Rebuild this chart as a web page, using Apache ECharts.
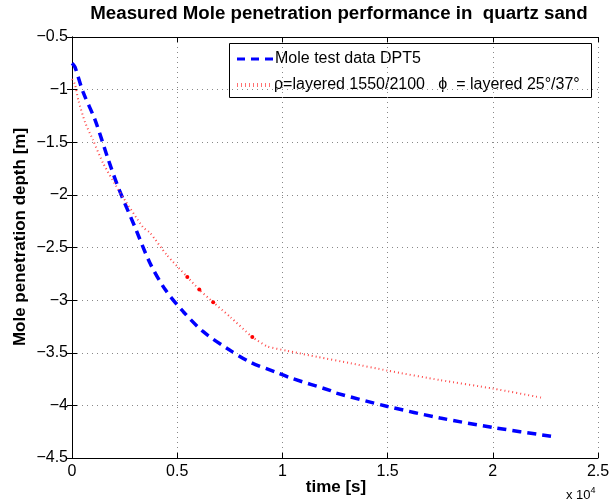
<!DOCTYPE html>
<html><head><meta charset="utf-8">
<script src="https://cdn.jsdelivr.net/npm/echarts@6/dist/echarts.min.js"></script>
<style>html,body{margin:0;padding:0;background:#fff}#c{width:615px;height:501px}</style>
</head><body><div id="c"></div>
<script>
const blueT = [0, 140, 520, 1100, 1700, 2200, 3000, 3710, 4430, 5290, 6240, 7380, 8480, 9760, 10400, 12290, 12500, 15000, 17500, 20000, 23000];
const blueY = [-0.75, -0.785, -1.02, -1.29, -1.65, -1.93, -2.31, -2.65, -2.90, -3.11, -3.30, -3.46, -3.59, -3.69, -3.74, -3.86, -3.88, -4.01, -4.12, -4.21, -4.30];
const redT = [0, 140, 300, 620, 1000, 1480, 2290, 3380, 3710, 4500, 5480, 6050, 6710, 7520, 8570, 9290, 10200, 11670, 13240, 15000, 17500, 20000, 22400];
const redY = [-0.90, -0.95, -1.10, -1.31, -1.48, -1.70, -1.98, -2.31, -2.36, -2.57, -2.78, -2.90, -3.02, -3.16, -3.35, -3.44, -3.48, -3.54, -3.60, -3.67, -3.76, -3.84, -3.93];
const markedRed = [10, 11, 12, 14];
const xTicks = [0, 5000, 10000, 15000, 20000, 25000];
const yTicks = [-0.5, -1, -1.5, -2, -2.5, -3, -3.5, -4, -4.5];
const title = 'Measured Mole penetration performance in  quartz sand';
const xLabel = 'time [s]';
const yLabel = 'Mole penetration depth [m]';
const blueName = 'Mole test data DPT5';
const redName = 'ρ=layered 1550/2100   ϕ  = layered 25°/37°';

const FONT = 'Liberation Sans, Arial, Helvetica, sans-serif';
const BLUE = '#0000ff', RED = '#ff4a4a';
const chart = echarts.init(document.getElementById('c'), null, {renderer: 'canvas'});
const fmtY = v => String(v).replace('-', '−');
const fmtX = v => String(v / 10000);
const gridLine = {show: true, lineStyle: {color: '#888', type: [1, 4], width: 1}};
const blueData = blueT.map((t, i) => [t, blueY[i]]);
const redData = redT.map((t, i) => {
  const item = {value: [t, redY[i]]};
  if (markedRed.includes(i)) { item.symbol = 'circle'; item.symbolSize = 4; item.itemStyle = {color: '#ff0000'}; }
  return item;
});
const axisCommon = {
  type: 'value',
  axisLine: {show: true, lineStyle: {color: '#000', width: 1}},
  axisTick: {show: true, inside: true, length: 5, lineStyle: {color: '#000'}}
};
chart.setOption({
  animation: false,
  backgroundColor: '#fff',
  grid: {left: 72, right: 17, top: 37, bottom: 43},
  xAxis: [Object.assign({}, axisCommon, {
    min: xTicks[0], max: xTicks[xTicks.length - 1], interval: xTicks[1] - xTicks[0], position: 'bottom',
    axisLabel: {formatter: fmtX, fontFamily: FONT, fontSize: 16, color: '#000', margin: 6},
    splitLine: gridLine
  }), Object.assign({}, axisCommon, {
    min: xTicks[0], max: xTicks[xTicks.length - 1], interval: xTicks[1] - xTicks[0], position: 'top',
    axisLabel: {show: false}, splitLine: {show: false}
  })],
  yAxis: [Object.assign({}, axisCommon, {
    min: yTicks[yTicks.length - 1], max: yTicks[0], interval: 0.5, position: 'left',
    axisLabel: {formatter: fmtY, fontFamily: FONT, fontSize: 16, color: '#000', margin: 4},
    splitLine: gridLine
  }), Object.assign({}, axisCommon, {
    min: yTicks[yTicks.length - 1], max: yTicks[0], interval: 0.5, position: 'right',
    axisLabel: {show: false}, splitLine: {show: false}
  })],
  series: [{
    name: blueName, type: 'line', data: blueData, smooth: 0.3, symbol: 'none',
    lineStyle: {color: BLUE, width: 3.5, type: [9, 6]}, itemStyle: {color: BLUE}
  }, {
    name: redName, type: 'line', data: redData, smooth: 0.2, symbol: 'none', showSymbol: true,
    lineStyle: {color: RED, width: 2, type: [1, 3]}, itemStyle: {color: RED}
  }],
  graphic: [{
    type: 'text', x: 339, y: 4,
    style: {text: title, fontFamily: FONT, fontSize: 18.7, fontWeight: 'bold', fill: '#000', align: 'center', verticalAlign: 'top'}
  }, {
    type: 'text', x: 336, y: 487,
    style: {text: xLabel, fontFamily: FONT, fontSize: 17, fontWeight: 'bold', fill: '#000', align: 'center', verticalAlign: 'middle'}
  }, {
    type: 'text', x: 566, y: 486,
    style: {text: 'x 10{s|4}', rich: {s: {fontSize: 9, fontFamily: FONT, padding: [0, 0, 9, 0]}},
      fontFamily: FONT, fontSize: 13, fill: '#000', verticalAlign: 'top'}
  }, {
    type: 'text', x: 20, y: 237, rotation: Math.PI / 2,
    style: {text: yLabel, fontFamily: FONT, fontSize: 17, fontWeight: 'bold', fill: '#000', align: 'center', verticalAlign: 'middle'}
  }, {
    type: 'group', z: 100,
    children: [{
      type: 'rect', shape: {x: 229.5, y: 43.5, width: 362, height: 54},
      style: {fill: '#fff', stroke: '#000', lineWidth: 1}
    }, {
      type: 'line', shape: {x1: 237, y1: 59, x2: 273, y2: 59},
      style: {stroke: BLUE, lineWidth: 3, lineDash: [8, 6]}
    }, {
      type: 'text', x: 275, y: 59,
      style: {text: blueName, fontFamily: FONT, fontSize: 16, fill: '#000', verticalAlign: 'middle'}
    }, {
      type: 'line', shape: {x1: 237, y1: 85, x2: 272, y2: 85},
      style: {stroke: '#ff7070', lineWidth: 4, lineDash: [1, 3]}
    }, {
      type: 'text', x: 274, y: 85,
      style: {text: redName, fontFamily: FONT, fontSize: 16, fill: '#000', verticalAlign: 'middle'}
    }]
  }]
});
</script></body></html>
